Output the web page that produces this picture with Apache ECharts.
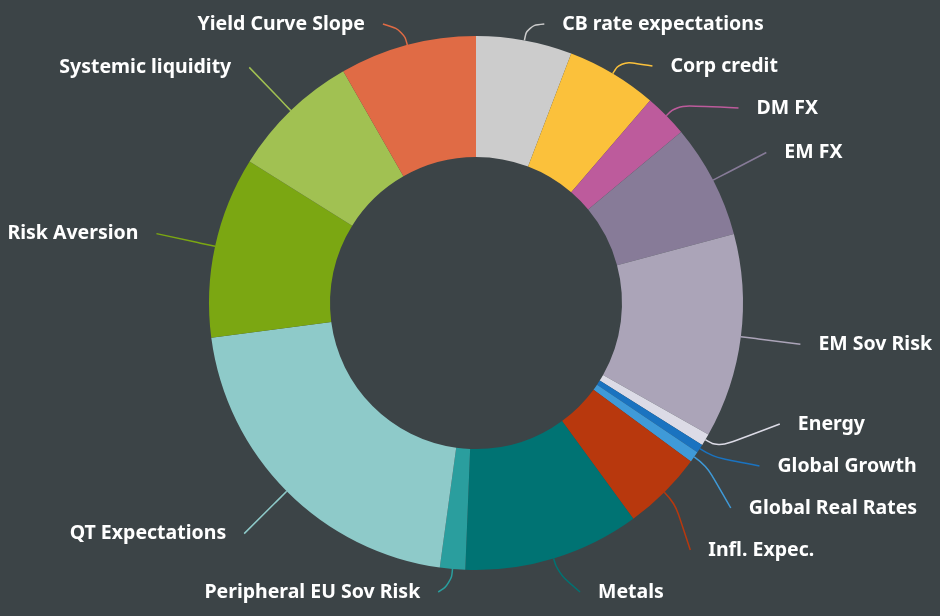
<!DOCTYPE html>
<html>
<head>
<meta charset="utf-8">
<script src="https://cdn.jsdelivr.net/npm/echarts@6/dist/echarts.min.js"></script>
<style>
html,body{margin:0;padding:0;background:#3c4447;}
#chart{width:940px;height:616px;}
</style>
</head>
<body>
<div id="chart"></div>
<script>
const categories = ["CB rate expectations","Corp credit","DM FX","EM FX","EM Sov Risk","Energy","Global Growth","Global Real Rates","Infl. Expec.","Metals","Peripheral EU Sov Risk","QT Expectations","Risk Aversion","Systemic liquidity","Yield Curve Slope"];
const values = [20.9, 19.8, 9.5, 24.8, 44.5, 2.6, 1.9, 2.4, 17.5, 38.4, 5.5, 74.7, 39.5, 28.2, 29.8];
const colors = ["#cccccc","#fbc13b","#bd5b9c","#877b98","#aba4b8","#dcdbe6","#1a73c0","#3f9ad8","#b8380d","#007373","#2a9e9e","#8ecac9","#7ba712","#a1c152","#e06b45"];

// geometry / label styling
const CX = 476, CY = 303, R_IN = 146, R_OUT = 267;
const LINE_R = 327, BEND = 15, GAP = 18, LABEL_H = 42, TOP = 24, BOTTOM = 592, CLAMP_EXTRA = 9;

// compute label layout from the slice angles (same data as the pie)
function computeLabelLayout() {
  const total = values.reduce((a, b) => a + b, 0);
  let acc = 0;
  const info = values.map((v, i) => {
    const a0 = acc / total * Math.PI * 2;
    acc += v;
    const a1 = acc / total * Math.PI * 2;
    const mid = (a0 + a1) / 2;
    const ux = Math.sin(mid), uy = -Math.cos(mid);
    return { i, ux, uy, side: ux >= 0 ? 1 : -1, yNat: CY + LINE_R * uy };
  });
  const result = {};
  [1, -1].forEach(side => {
    const list = info.filter(d => d.side === side).sort((a, b) => a.yNat - b.yNat);
    list.forEach(d => { d.clamped = d.yNat < TOP || d.yNat > BOTTOM; d.y = Math.min(Math.max(d.yNat, TOP), BOTTOM); });
    for (let k = 1; k < list.length; k++) list[k].y = Math.max(list[k].y, list[k - 1].y + LABEL_H);
    const last = list.length - 1;
    if (list[last].y > BOTTOM) {
      list[last].y = BOTTOM;
      for (let k = last - 1; k >= 0; k--) list[k].y = Math.min(list[k].y, list[k + 1].y - LABEL_H);
    }
    list.forEach(d => {
      const dy = d.y - CY;
      let xEnd;
      if (d.clamped || Math.abs(dy) >= LINE_R) xEnd = CX + LINE_R * d.ux + side * CLAMP_EXTRA;
      else xEnd = CX + side * Math.sqrt(LINE_R * LINE_R - dy * dy);
      const p1 = [CX + R_OUT * d.ux, CY + R_OUT * d.uy];
      const p2 = [CX + (R_OUT + BEND) * d.ux, CY + (R_OUT + BEND) * d.uy];
      const p3 = [xEnd, d.y];
      result[d.i] = {
        x: xEnd + side * GAP,
        y: d.y,
        align: side > 0 ? 'left' : 'right',
        verticalAlign: 'middle',
        labelLinePoints: [p1, p2, p3]
      };
    });
  });
  return result;
}
const labelLayoutMap = computeLabelLayout();

const chart = echarts.init(document.getElementById('chart'));
chart.setOption({
  backgroundColor: '#3c4447',
  animation: false,
  series: [{
    type: 'pie',
    center: [CX, CY],
    radius: [R_IN, R_OUT],
    startAngle: 90,
    clockwise: true,
    data: categories.map((c, i) => ({name: c, value: values[i], itemStyle: {color: colors[i]}})),
    label: {
      color: '#ffffff',
      fontFamily: 'Noto Sans',
      fontWeight: 'bold',
      fontSize: 19.5,
      width: 260,
      overflow: 'none'
    },
    labelLine: {
      show: true,
      length: 60,
      length2: 2,
      smooth: 0.45,
      lineStyle: {width: 1.5}
    },
    labelLayout: function (params) {
      return labelLayoutMap[params.dataIndex];
    }
  }]
});
</script>
</body>
</html>
